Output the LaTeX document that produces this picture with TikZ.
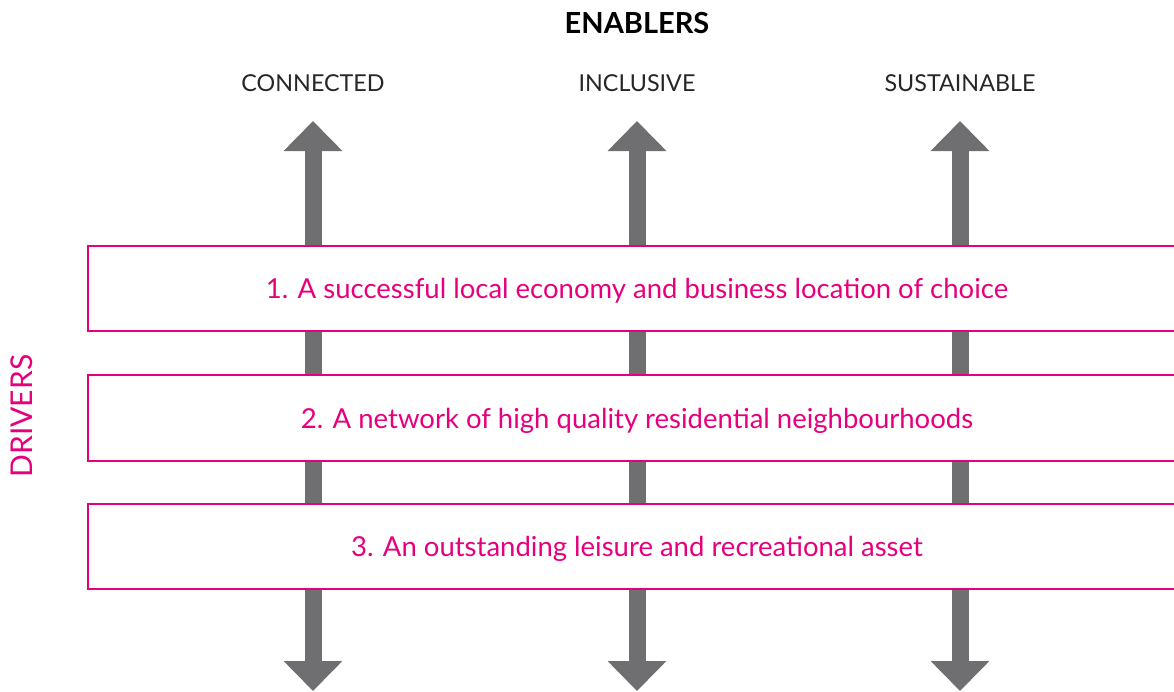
\documentclass[tikz,border=0pt]{standalone}
\usepackage{fontspec}
\setmainfont{Lato}
\usetikzlibrary{arrows.meta,positioning}
\definecolor{Magenta}{HTML}{E6007E}
\definecolor{Gris}{HTML}{6F6F71}

\tikzset{Titre/.style={font=\fontsize{29}{34}\selectfont\bfseries,text=black}}
\tikzset{Enabler/.style={font=\fontsize{23.3}{28}\selectfont,text=black!85}}
\tikzset{Driver/.style={draw=Magenta,line width=2pt,fill=white,minimum width=1098pt,minimum height=85pt,inner sep=0pt,text depth=0pt,text=Magenta,font=\fontsize{27.5}{32}\selectfont}}
\tikzset{Fleche/.style={Gris,line width=17pt,{Triangle[width=57pt,length=30pt]}-{Triangle[width=57pt,length=30pt]}}}

\begin{document}
\begin{tikzpicture}[x=1pt,y=-1pt]
\useasboundingbox (0,0) rectangle (1174,691);

\node[Titre] (E) at (637,23) {ENABLERS};

\node[Enabler] (C) at (313,83) {CONNECTED};
\node[Enabler] (I) at (637,83) {INCLUSIVE};
\node[Enabler] (S) at (960,83) {SUSTAINABLE};

\coordinate (Ch) at (313,121);
\coordinate (Ih) at (637,121);
\coordinate (Sh) at (960,121);
\coordinate (Cb) at (313,691);
\coordinate (Ib) at (637,691);
\coordinate (Sb) at (960,691);

\draw[Fleche] (Cb) -- (Ch);
\draw[Fleche] (Ib) -- (Ih);
\draw[Fleche] (Sb) -- (Sh);

\node[Driver] (D1) at (637,288.5) {1. A successful local economy and business location of choice};
\node[Driver,minimum height=86pt] (D2) at (637,418) {2. A network of high quality residential neighbourhoods};
\node[Driver] (D3) at (637,546.5) {3. An outstanding leisure and recreational asset};

\node[rotate=90,text=Magenta,font=\fontsize{30}{34}\selectfont] (D) at (22,416) {DRIVERS};

\end{tikzpicture}
\end{document}
